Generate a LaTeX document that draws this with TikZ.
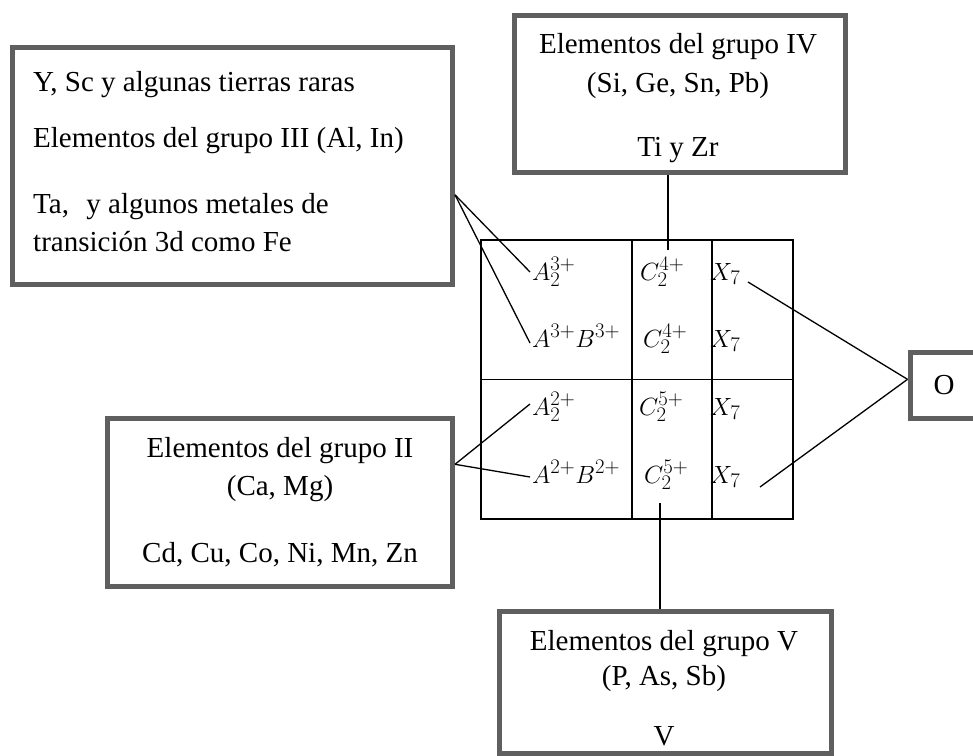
\documentclass[tikz,border=0pt]{standalone}
\usepackage{fontspec}
\setmainfont{Liberation Serif}
\DeclareMathSizes{28}{28}{21}{16}
\usetikzlibrary{calc}
\definecolor{boxgray}{RGB}{95,95,95}
\begin{document}
\begin{tikzpicture}[x=1pt,y=-1pt,
  box/.style={draw=boxgray, line width=5pt, rectangle, inner sep=0pt},
  txt/.style={inner sep=0pt, font=\fontsize{29}{35}\selectfont},
  mth/.style={inner sep=0pt, font=\fontsize{28}{33}\selectfont},
  conn/.style={draw=black, line width=1.3pt},
  gridline/.style={draw=black, line width=1.5pt}]
\useasboundingbox (0,0) rectangle (973,755);

% boxes
\node[box, minimum width=440pt, minimum height=237.5pt] (A) at (232.5,165.75) {};
\node[box, minimum width=330.5pt, minimum height=157.5pt] (IV) at (679.75,93.75) {};
\node[box, minimum width=345pt, minimum height=167.5pt] (II) at (280,502.25) {};
\node[box, minimum width=332pt, minimum height=142pt] (V) at (665.5,682.5) {};
\node[box, txt, minimum width=68pt, minimum height=66pt] (O) at (944,385) {O};

% texts of box A
\node[txt, anchor=base west] (a1) at (33,91) {Y, Sc y algunas tierras raras};
\node[txt, anchor=base west] (a2) at (33,147) {Elementos del grupo III (Al, In)};
\node[txt, anchor=base west] (a3) at (33,213) {Ta,\hspace{0.6em}y algunos metales de};
\node[txt, anchor=base west] (a4) at (33,251) {transición 3d como Fe};

% texts of box IV
\node[txt, anchor=base] (b1) at (678,53) {Elementos del grupo IV};
\node[txt, anchor=base] (b2) at (678,92) {(Si, Ge, Sn, Pb)};
\node[txt, anchor=base] (b3) at (678,156) {Ti y Zr};

% texts of box II
\node[txt, anchor=base] (c1) at (280,457) {Elementos del grupo II};
\node[txt, anchor=base] (c2) at (280,495) {(Ca, Mg)};
\node[txt, anchor=base] (c3) at (280,562) {Cd, Cu, Co, Ni, Mn, Zn};

% texts of box V
\node[txt, anchor=base] (d1) at (664,650) {Elementos del grupo V};
\node[txt, anchor=base] (d2) at (664,685) {(P, As, Sb)};
\node[txt, anchor=base] (d3) at (664,745) {V};

% grid
\node[draw, line width=1.5pt, inner sep=0pt, minimum width=312pt, minimum height=279pt] (G) at (637,379.5) {};
\draw[gridline] (G.west) -- (G.east);
\draw[gridline] ($(G.north)+(-5,0)$) -- ($(G.south)+(-5,0)$);
\draw[gridline] ($(G.north)+(75,0)$) -- ($(G.south)+(75,0)$);

% formulas
\node[mth, anchor=base west] (m11) at (532,280) {$A_2^{3+}$};
\node[mth, anchor=base west] (m12) at (640,280) {$C_2^{4+}$};
\node[mth, anchor=base west] (m13) at (710,280) {$X_7$};
\node[mth, anchor=base west] (m21) at (532,347) {$A^{3+}B^{3+}$};
\node[mth, anchor=base west] (m22) at (643,347) {$C_2^{4+}$};
\node[mth, anchor=base west] (m23) at (710,347) {$X_7$};
\node[mth, anchor=base west] (m31) at (532,415) {$A_2^{2+}$};
\node[mth, anchor=base west] (m32) at (639,415) {$C_2^{5+}$};
\node[mth, anchor=base west] (m33) at (710,415) {$X_7$};
\node[mth, anchor=base west] (m41) at (532,483) {$A^{2+}B^{2+}$};
\node[mth, anchor=base west] (m42) at (644,483) {$C_2^{5+}$};
\node[mth, anchor=base west] (m43) at (710,483) {$X_7$};

% junctions and free ends
\coordinate (jA) at ($(A.north east)!0.62!(A.south east)$);
\coordinate (jB) at ($(II.north east)!0.28!(II.south east)$);
\coordinate (jO) at ($(O.north west)!0.42!(O.south west)$);
\coordinate (c4) at (668,250);
\coordinate (c5) at (660,503);

% connectors
\draw[conn] (jA) -- ($(m11.base west)+(-2,-8)$);
\draw[conn] (jA) -- ($(m21.base west)+(-2,-4)$);
\draw[conn] (jB) -- ($(m31.base west)+(-2,-11)$);
\draw[conn] (jB) -- ($(m41.base west)+(-2,-6)$);
\draw[conn] (c4) -- (c4 |- IV.south);
\draw[conn] (c5) -- (c5 |- V.north);
\draw[conn] ($(m13.base west)+(38,2)$) -- (jO);
\draw[conn] ($(m43.base west)+(50,4)$) -- (jO);
\end{tikzpicture}
\end{document}
